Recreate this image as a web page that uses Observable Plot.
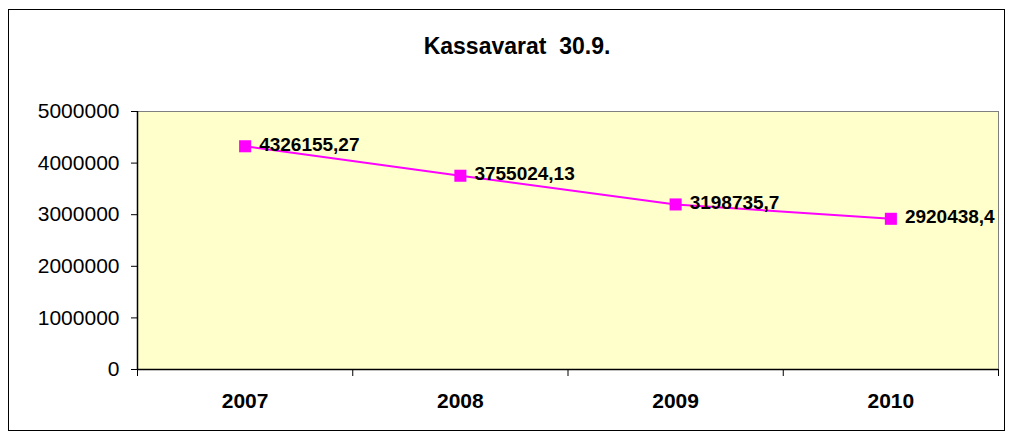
<!DOCTYPE html>
<html>
<head>
<meta charset="utf-8">
<script src="https://cdn.jsdelivr.net/npm/d3@7"></script>
<script src="https://cdn.jsdelivr.net/npm/@observablehq/plot@0.6"></script>
<style>
  html, body { margin: 0; padding: 0; background: #fff; }
  #wrap { position: relative; width: 1014px; height: 440px; font-family: "Liberation Sans", Arial, sans-serif; }
  #border { position: absolute; left: 8px; top: 9px; width: 997px; height: 422px; border: 1px solid #000; box-sizing: border-box; pointer-events: none; }
  #title { position: absolute; left: 0; width: 1034px; top: 35px; line-height: 23px; text-align: center; font-weight: bold; font-size: 23px; white-space: pre; color: #000; }
  #chart { position: absolute; left: 0; top: 0; }
</style>
</head>
<body>
<div id="wrap">
  <div id="chart"></div>
  <div id="border"></div>
  <div id="title">Kassavarat  30.9.</div>
</div>
<script>
const years = [2007, 2008, 2009, 2010];
const values = [4326155.27, 3755024.13, 3198735.7, 2920438.4];
const valueLabels = ["4326155,27", "3755024,13", "3198735,7", "2920438,4"];
const yTicks = [0, 1000000, 2000000, 3000000, 4000000, 5000000];
const xBoundaries = [2006.5, 2007.5, 2008.5, 2009.5, 2010.5];

const data = years.map((y, i) => ({year: y, value: values[i], label: valueLabels[i]}));

const plot = Plot.plot({
  width: 1014,
  height: 440,
  marginLeft: 137,
  marginRight: 16,
  marginTop: 111,
  marginBottom: 71,
  style: {fontFamily: "'Liberation Sans', Arial, sans-serif", fontSize: "21px", color: "#000", background: "transparent"},
  x: {type: "linear", domain: [2006.5, 2010.5]},
  y: {domain: [0, 5000000]},
  marks: [
    Plot.frame({fill: "#FFFFCC", stroke: "#808080", strokeWidth: 1}),
    Plot.axisY({ticks: yTicks, tickFormat: d => String(d), tickSize: 6, tickPadding: 12, fontSize: 21, label: null, stroke: "#000", strokeOpacity: 1}),
    Plot.axisX({ticks: xBoundaries, tickFormat: () => "", tickSize: 7, label: null, strokeOpacity: 1}),
    Plot.axisX({ticks: years, tickFormat: d => String(d), tickSize: 0, tickPadding: 24, fontWeight: "bold", fontSize: 21, label: null}),
    Plot.ruleX([2006.5], {stroke: "#000", strokeWidth: 1.5}),
    Plot.ruleY([0], {stroke: "#000", strokeWidth: 1.5}),
    Plot.line(data, {x: "year", y: "value", stroke: "#FF00FF", strokeWidth: 2}),
    Plot.dot(data, {x: "year", y: "value", symbol: "square", r: 6.8, fill: "#FF00FF", stroke: "none"}),
    Plot.text(data, {x: "year", y: "value", text: "label", textAnchor: "start", dx: 14, dy: -1.5, fontWeight: "bold", fontSize: 19, fill: "#000"})
  ]
});
document.getElementById("chart").appendChild(plot);
</script>
</body>
</html>
